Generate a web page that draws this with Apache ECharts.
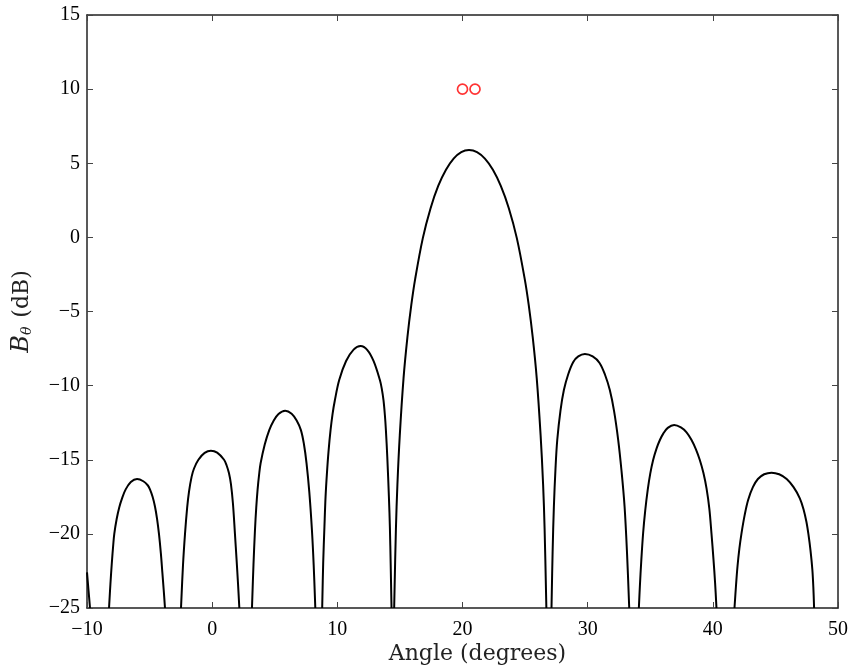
<!DOCTYPE html>
<html>
<head>
<meta charset="utf-8">
<script src="https://cdn.jsdelivr.net/npm/echarts@6/dist/echarts.min.js"></script>
<style>html,body{margin:0;padding:0;background:#fff}#c{width:854px;height:666px}</style>
</head>
<body>
<div id="c"></div>
<script>
// Tick values
var xTicks = [-10, 0, 10, 20, 30, 40, 50];
var yTicks = [-25, -20, -15, -10, -5, 0, 5, 10, 15];

// Beam pattern lobes [angle (deg), B (dB)]
var lobeEdge = [[-10, -22.6], [-9.88, -23.8], [-9.76, -25]];
var lobeA = [[-8.24, -25], [-8.13, -23.4], [-8.02, -22.0], [-7.9, -20.7], [-7.82, -20.0], [-7.63, -19.0], [-7.42, -18.2], [-7.2, -17.6], [-6.91, -17.0], [-6.5, -16.5], [-6.0, -16.3], [-5.5, -16.45], [-5.15, -16.72], [-4.97, -17.0], [-4.76, -17.5], [-4.57, -18.15], [-4.4, -19.0], [-4.25, -20.0], [-4.1, -21.3], [-3.98, -22.6], [-3.87, -23.8], [-3.77, -25]];
var lobeB = [[-2.49, -25], [-2.33, -22.1], [-2.17, -20.0], [-2.0, -18.25], [-1.85, -17.15], [-1.64, -16.14], [-1.45, -15.59], [-1.1, -15.0], [-0.6, -14.54], [-0.1, -14.39], [0.4, -14.52], [0.95, -15.0], [1.15, -15.37], [1.34, -15.9], [1.5, -16.64], [1.66, -17.95], [1.82, -20.0], [1.95, -21.74], [2.07, -23.43], [2.17, -25]];
var lobeC = [[3.18, -25], [3.3, -22.1], [3.42, -19.74], [3.52, -18.25], [3.63, -17.0], [3.75, -16.0], [3.87, -15.24], [4.2, -13.97], [4.56, -13.0], [4.9, -12.38], [5.3, -11.91], [5.83, -11.69], [6.35, -11.89], [6.75, -12.35], [7.09, -13.0], [7.33, -13.94], [7.54, -15.24], [7.76, -17.17], [7.97, -19.74], [8.11, -22.1], [8.24, -25]];
var lobeD = [[8.79, -25], [8.87, -21.97], [8.97, -19.5], [9.06, -17.49], [9.17, -15.9], [9.3, -14.4], [9.46, -12.99], [9.62, -11.9], [9.8, -11.0], [10.15, -9.62], [10.7, -8.34], [11.3, -7.57], [11.86, -7.33], [12.4, -7.6], [12.9, -8.35], [13.40, -9.62], [13.55, -10.2], [13.69, -11.0], [13.80, -12.0], [13.88, -13.0], [13.99, -14.8], [14.12, -17.49], [14.2, -19.6], [14.26, -21.97], [14.33, -25]];
var lobeMain = [[14.54, -25], [14.68, -19.69], [14.8, -16.67], [14.99, -13.34], [15.29, -9.49], [15.6, -6.73], [15.91, -4.56], [16.22, -2.8], [16.83, -0.05], [17.45, 1.97], [18.06, 3.47], [18.68, 4.56], [19.29, 5.31], [19.9, 5.75], [20.52, 5.89], [21.16, 5.75], [21.79, 5.31], [22.43, 4.56], [23.06, 3.47], [23.7, 1.97], [24.34, -0.05], [24.97, -2.8], [25.29, -4.56], [25.61, -6.73], [25.93, -9.49], [26.24, -13.34], [26.44, -16.67], [26.56, -19.69], [26.7, -25]];
var lobeE = [[27.11, -25], [27.2, -21.2], [27.3, -18.17], [27.43, -15.6], [27.57, -13.67], [27.83, -11.67], [28.1, -10.3], [28.44, -9.25], [28.85, -8.41], [29.25, -8.03], [29.78, -7.87], [30.4, -8.03], [30.95, -8.47], [31.4, -9.3], [31.77, -10.3], [32.11, -11.72], [32.44, -13.67], [32.7, -15.71], [32.95, -18.17], [33.15, -21.4], [33.32, -25]];
var lobeF = [[34.09, -25], [34.17, -23.55], [34.28, -21.86], [34.43, -19.96], [34.6, -18.42], [34.8, -17.02], [35.0, -15.94], [35.23, -15.02], [35.5, -14.25], [35.77, -13.67], [36.05, -13.22], [36.4, -12.85], [36.91, -12.66], [37.45, -12.82], [37.9, -13.15], [38.3, -13.67], [38.65, -14.3], [38.96, -15.02], [39.25, -15.9], [39.5, -16.95], [39.72, -18.3], [39.89, -19.96], [40.05, -21.7], [40.18, -23.3], [40.29, -25]];
var lobeG = [[41.73, -25], [41.85, -23.5], [41.97, -22.2], [42.12, -21.0], [42.29, -19.96], [42.55, -18.7], [42.82, -17.71], [43.2, -16.85], [43.6, -16.3], [44.1, -15.98], [44.69, -15.87], [45.3, -15.98], [45.9, -16.3], [46.45, -16.85], [46.95, -17.6], [47.25, -18.35], [47.48, -19.2], [47.65, -20.1], [47.8, -21.09], [47.95, -22.4], [48.03, -23.6], [48.09, -25]];
var lobes = [lobeEdge, lobeA, lobeB, lobeC, lobeD, lobeMain, lobeE, lobeF, lobeG];

// Target markers
var targets = [[20, 10], [21, 10]];

var chart = echarts.init(document.getElementById('c'), null, {renderer: 'canvas'});
var serif = 'Liberation Serif';
function fmt(v) { return v < 0 ? '\u2212' + Math.abs(v) : String(v); }
var axisCommon = {
  type: 'value',
  axisLine: {show: true, onZero: false, lineStyle: {color: '#222', width: 1.5}},
  axisTick: {show: true, inside: true, length: 6, lineStyle: {color: '#444', width: 1}},
  splitLine: {show: false}
};
var series = lobes.map(function (d) {
  return {
    type: 'line', data: d, smooth: 0.35, showSymbol: false, clip: true,
    lineStyle: {color: '#000', width: 2}, z: 3, silent: true
  };
});
series.push({
  type: 'scatter', data: targets, symbol: 'circle', symbolSize: 10,
  itemStyle: {color: 'rgba(255,255,255,0)', borderColor: '#ff0000', borderWidth: 1.7}, z: 5
});

chart.setOption({
  animation: false,
  backgroundColor: '#fff',
  grid: {left: 87, right: 16, top: 15, bottom: 58, containLabel: false, outerBoundsMode: 'none'},
  xAxis: [
    Object.assign({}, axisCommon, {
      min: xTicks[0], max: xTicks[xTicks.length - 1], interval: 10, position: 'bottom',
      axisLabel: {color: '#000', fontFamily: serif, fontSize: 20, margin: 12, formatter: fmt},
      name: 'Angle (degrees)', nameLocation: 'middle', nameGap: 35, nameMoveOverlap: false,
      nameTextStyle: {color: '#222', fontFamily: 'DejaVu Serif', fontSize: 22, padding: [0, 0, 0, 30]}
    }),
    Object.assign({}, axisCommon, {
      min: xTicks[0], max: xTicks[xTicks.length - 1], interval: 10, position: 'top',
      axisLabel: {show: false}
    })
  ],
  yAxis: [
    Object.assign({}, axisCommon, {
      min: yTicks[0], max: yTicks[yTicks.length - 1], interval: 5, position: 'left',
      axisLabel: {color: '#000', fontFamily: serif, fontSize: 20, margin: 7, formatter: fmt},
      name: '{b|B}{s|\u03b8}{t| (dB)}', nameLocation: 'middle', nameGap: 53, nameRotate: 90, nameMoveOverlap: false,
      nameTextStyle: {color: '#222', fontFamily: serif, fontSize: 22,
        rich: {
          b: {fontFamily: 'DejaVu Serif', fontStyle: 'italic', fontSize: 24, color: '#222'},
          s: {fontFamily: 'DejaVu Serif', fontStyle: 'italic', fontSize: 14, color: '#222', padding: [10, 2, 0, 0]},
          t: {fontFamily: 'DejaVu Serif', fontSize: 22, color: '#222'}
        }}
    }),
    Object.assign({}, axisCommon, {
      min: yTicks[0], max: yTicks[yTicks.length - 1], interval: 5, position: 'right',
      axisLabel: {show: false}
    })
  ],
  series: series
});
</script>
</body>
</html>
